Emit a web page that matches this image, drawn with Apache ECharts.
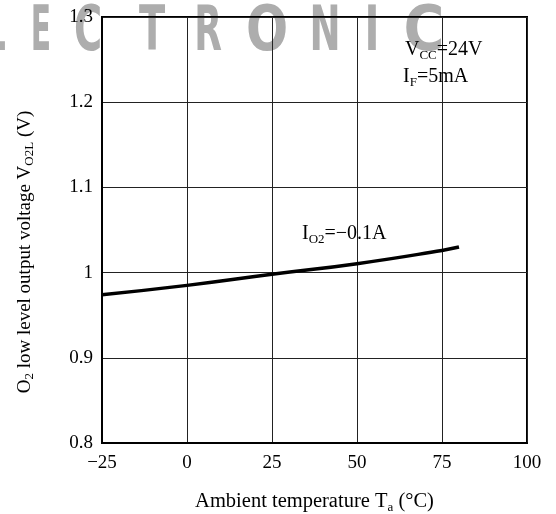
<!DOCTYPE html>
<html>
<head>
<meta charset="utf-8">
<script src="https://cdn.jsdelivr.net/npm/echarts@6/dist/echarts.min.js"></script>
<style>html,body{margin:0;padding:0;background:#fff}#c{width:556px;height:514px}</style>
</head>
<body>
<div id="c"></div>
<script>
// Data
var temperature = [-25, 0, 25, 50, 75, 80];
var voltage = [0.974, 0.985, 0.998, 1.0105, 1.026, 1.030];
var xTickValues = [-25, 0, 25, 50, 75, 100];
var xTickLabels = ['\u221225', '0', '25', '50', '75', '100'];
var yTickValues = [0.8, 0.9, 1.0, 1.1, 1.2, 1.3];
var yTickLabels = ['0.8', '0.9', '1', '1.1', '1.2', '1.3'];
var watermarkLetters = ['L', 'E', 'C', 'T', 'R', 'O', 'N', 'I', 'C'];
var watermarkX = [-4, 41, 88, 152, 208, 267, 325, 372, 424];
var watermarkScale = [0.5, 0.48, 0.62, 0.62, 0.58, 0.8, 0.6, 0.65, 0.9];

var serif = '"Liberation Serif", "Times New Roman", serif';
var chart = echarts.init(document.getElementById('c'), null, {renderer: 'canvas'});

function lookup(vals, labels, v) {
  for (var i = 0; i < vals.length; i++) if (Math.abs(vals[i] - v) < 1e-6) return labels[i];
  return '';
}

var sub = {fontFamily: serif, fontSize: 13, color: '#000', lineHeight: 12, verticalAlign: 'bottom'};
var main20 = {fontFamily: serif, fontSize: 20, color: '#000', lineHeight: 24};

var graphics = [];
watermarkLetters.forEach(function (ch, i) {
  graphics.push({
    type: 'text', z: -10, silent: true,
    x: watermarkX[i], y: 3, scaleX: watermarkScale[i],
    style: {text: ch, fill: '#adadad', font: 'bold 62px "DejaVu Sans", sans-serif', textAlign: 'center', textVerticalAlign: 'top'}
  });
});
graphics.push({
  type: 'text', z: 100, x: 405, y: 38,
  style: {text: '{m|V}{s|CC}{m|=24V}', rich: {m: main20, s: sub}}
});
graphics.push({
  type: 'text', z: 100, x: 403, y: 65,
  style: {text: '{m|I}{s|F}{m|=5mA}', rich: {m: main20, s: sub}}
});
graphics.push({
  type: 'text', z: 100, x: 302, y: 222,
  style: {text: '{m|I}{s|O2}{m|=\u22120.1A}', rich: {m: main20, s: sub}}
});

chart.setOption({
  animation: false,
  backgroundColor: '#fff',
  grid: {left: 102, right: 29, top: 17, bottom: 71, outerBoundsMode: 'none', containLabel: false, show: true, borderColor: '#000', borderWidth: 2, backgroundColor: 'transparent'},
  xAxis: {
    type: 'value', min: -25, max: 100, interval: 25,
    axisLine: {show: true, onZero: false, lineStyle: {color: '#000', width: 2}},
    axisTick: {show: false},
    splitLine: {show: true, lineStyle: {color: '#222', width: 1}},
    axisLabel: {margin: 11, fontFamily: serif, fontSize: 19, color: '#000', formatter: function (v) { return lookup(xTickValues, xTickLabels, v); }},
    name: '{m|Ambient temperature T}{s|a}{m| (\u00b0C)}',
    nameLocation: 'middle', nameGap: 47,
    nameTextStyle: {rich: {m: {fontFamily: serif, fontSize: 20.5, color: '#000', lineHeight: 24}, s: sub}}
  },
  yAxis: {
    type: 'value', min: 0.8, max: 1.3, interval: 0.1,
    axisLine: {show: true, onZero: false, lineStyle: {color: '#000', width: 2}},
    axisTick: {show: false},
    splitLine: {show: true, lineStyle: {color: '#222', width: 1}},
    axisLabel: {margin: 9, fontFamily: serif, fontSize: 19, color: '#000', formatter: function (v) { return lookup(yTickValues, yTickLabels, v); }},
    name: '{m|O}{s|2}{m| low level output voltage V}{s|O2L}{m| (V)}',
    nameLocation: 'middle', nameGap: 66, nameRotate: 90,
    nameTextStyle: {padding: [0, 44, 0, 0], rich: {m: {fontFamily: serif, fontSize: 19, color: '#000', lineHeight: 22}, s: sub}}
  },
  graphic: graphics,
  series: [{
    type: 'line', data: temperature.map(function (t, i) { return [t, voltage[i]]; }),
    smooth: true, showSymbol: false, symbol: 'none',
    lineStyle: {color: '#000', width: 3.5}
  }]
});
</script>
</body>
</html>
